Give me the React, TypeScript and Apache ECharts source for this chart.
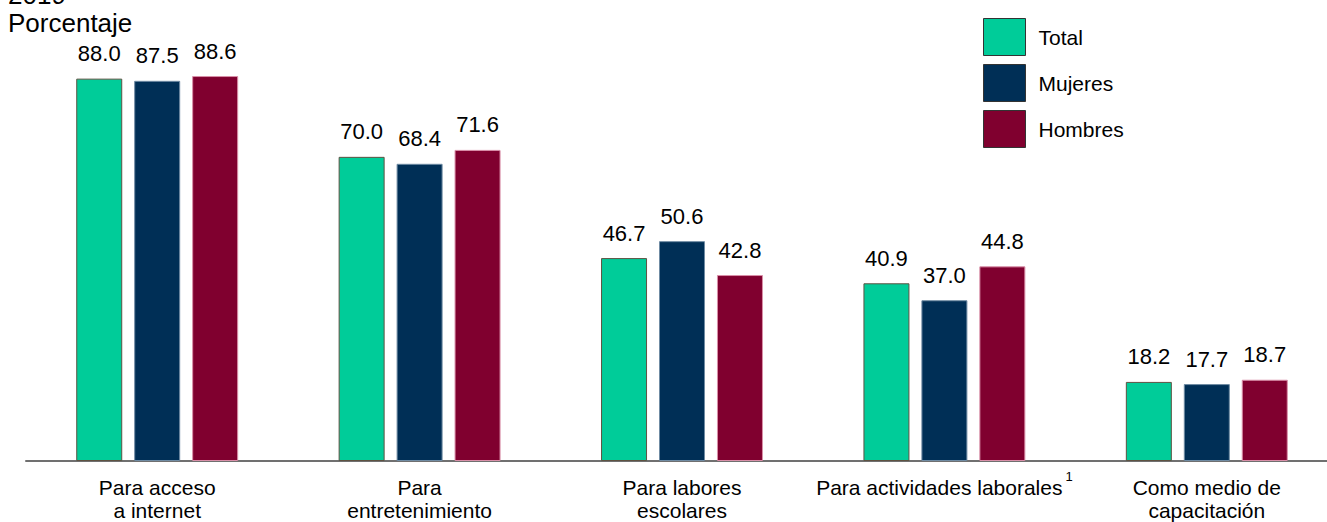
import React, { useEffect, useRef } from "react";
import * as echarts from "echarts";

const categories = [
  "Para acceso\na internet",
  "Para\nentretenimiento",
  "Para labores\nescolares",
  "Para actividades laborales{sup|1}",
  "Como medio de\ncapacitación",
];
const seriesNames = ["Total", "Mujeres", "Hombres"];
const totalValues = [88.0, 70.0, 46.7, 40.9, 18.2];
const mujeresValues = [87.5, 68.4, 50.6, 37.0, 17.7];
const hombresValues = [88.6, 71.6, 42.8, 44.8, 18.7];
const colors = ["#00CC99", "#002F56", "#80002F"];
const borderColors = ["#5E5242", "#6F8BA3", "#D98FA8"];

const FONT = "'Liberation Sans', Arial, sans-serif";

export default function App() {
  const ref = useRef<HTMLDivElement>(null);
  useEffect(() => {
    document.body.style.margin = "0";
    if (!ref.current) return;
    const chart = echarts.init(ref.current, undefined, { renderer: "svg" });
    const values = [totalValues, mujeresValues, hombresValues];
    chart.setOption({
      animation: false,
      textStyle: { fontFamily: FONT },
      graphic: [
        {
          type: "text",
          left: 8,
          top: -19,
          style: {
            text: "2019",
            fontSize: 26,
            lineHeight: 28,
            fill: "#000",
            fontFamily: FONT,
          },
        },
        {
          type: "text",
          left: 8,
          top: 9,
          style: {
            text: "Porcentaje",
            fontSize: 26,
            lineHeight: 28,
            fill: "#000",
            fontFamily: FONT,
          },
        },
      ],
      legend: {
        orient: "vertical",
        left: 983,
        top: 18,
        padding: 0,
        itemWidth: 42,
        itemHeight: 37,
        itemGap: 8,
        icon: "rect",
        data: seriesNames,
        textStyle: {
          fontSize: 21,
          color: "#000",
          fontFamily: FONT,
          padding: [0, 0, 0, 8],
        },
        itemStyle: { borderColor: "#333", borderWidth: 1 },
      },
      grid: { left: 26, top: 26.5, width: 1312, height: 437.5 },
      xAxis: {
        type: "category",
        data: categories,
        axisLine: { lineStyle: { color: "#707070", width: 2 } },
        axisTick: { show: false },
        axisLabel: {
          interval: 0,
          fontSize: 21,
          lineHeight: 23,
          color: "#000",
          margin: 15,
          fontFamily: FONT,
          rich: {
            sup: { fontSize: 13, verticalAlign: "bottom", padding: [0, 0, 16, 3], color: "#000" },
          },
        },
      },
      yAxis: { type: "value", min: 0, max: 100, show: false, splitLine: { show: false } },
      series: seriesNames.map((name, i) => ({
        name,
        type: "bar",
        data: values[i],
        barWidth: 46,
        barGap: "26%",
        itemStyle: { color: colors[i], borderColor: borderColors[i], borderWidth: 1 },
        label: {
          show: true,
          position: "top",
          distance: 14,
          fontSize: 22,
          color: "#000",
          fontFamily: FONT,
          formatter: (p: any) => Number(p.value).toFixed(1),
        },
      })),
    });
    return () => chart.dispose();
  }, []);
  return (
    <div style={{ width: 1327, height: 522, overflow: "hidden" }}>
      <div ref={ref} style={{ width: 1340, height: 522 }} />
    </div>
  );
}
